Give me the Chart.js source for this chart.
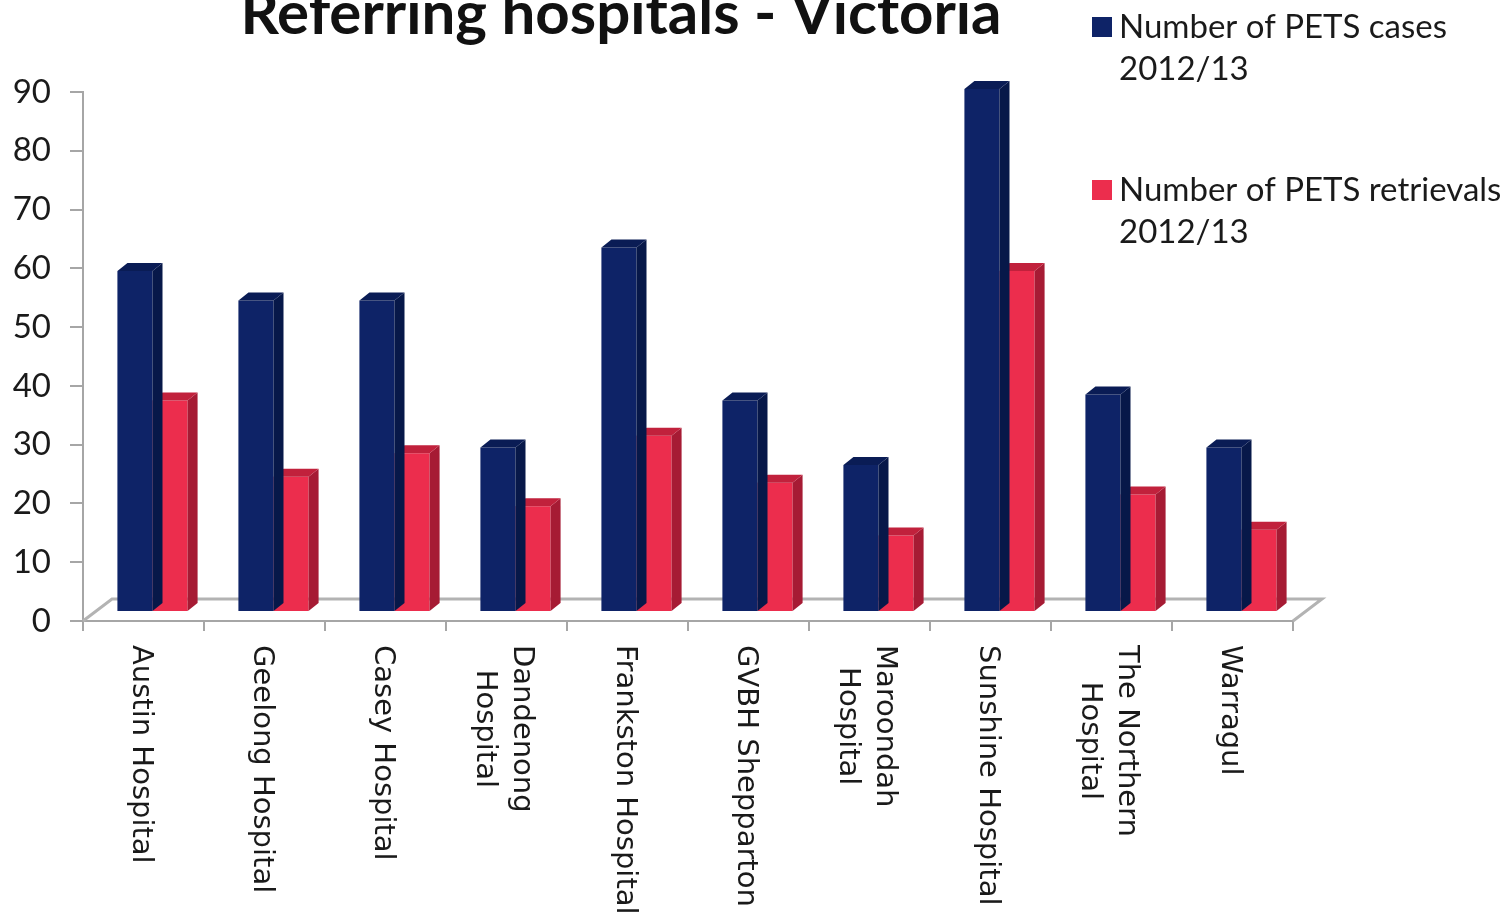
<!DOCTYPE html>
<html>
<head>
<meta charset="utf-8">
<script src="https://cdn.jsdelivr.net/npm/chart.js@4.4.1/dist/chart.umd.min.js"></script>
<style>
  html, body { margin:0; padding:0; background:#fff; }
  #wrap { width:1511px; height:916px; position:relative; }
</style>
</head>
<body>
<div id="wrap"><canvas id="hospChart"></canvas></div>
<script>
// ---- data ----
const hospitals = [
  ['Austin Hospital'], ['Geelong Hospital'], ['Casey Hospital'], ['Dandenong', 'Hospital'],
  ['Frankston Hospital'], ['GVBH Shepparton'], ['Maroondah', 'Hospital'], ['Sunshine Hospital'],
  ['The Northern', 'Hospital'], ['Warragul']
];
const petsCases = [58, 53, 53, 28, 62, 36, 25, 89, 37, 28];
const petsRetrievals = [36, 23, 27, 18, 30, 22, 13, 58, 20, 14];
const seriesNames = [['Number of PETS cases', '2012/13'], ['Number of PETS retrievals', '2012/13']];
const yMin = 0, yMax = 90, yStep = 10;
const chartTitle = 'Referring hospitals - Victoria';

const FRONT = ['#0e2367', '#ec2d4d'];
const SIDE  = ['#071849', '#a61b34'];
const TOP   = ['#0a1c55', '#c1213c'];

// fake 3D look: bars pushed back into the floor, with side + top faces
const shift = { x: 9, y: 9 };
const depth = { x: 10, y: 8 };
const floorDepth = { x: 29, y: 22 };

const threeD = {
  id: 'threeD',
  beforeDatasetsDraw(chart) {
    const { ctx, chartArea: a } = chart;
    ctx.save();
    ctx.strokeStyle = '#b3b3b3';
    ctx.lineWidth = 3;
    ctx.beginPath();
    ctx.moveTo(a.left, a.bottom);
    ctx.lineTo(a.left + floorDepth.x, a.bottom - floorDepth.y);
    ctx.lineTo(a.right + floorDepth.x, a.bottom - floorDepth.y);
    ctx.lineTo(a.right, a.bottom);
    ctx.stroke();
    ctx.restore();
    ctx.save();
    ctx.translate(shift.x, -shift.y);
  },
  afterDatasetDraw(chart, args) {
    const ctx = chart.ctx;
    const i = args.index;
    args.meta.data.forEach(bar => {
      const p = bar.getProps(['x', 'y', 'base', 'width'], true);
      const l = p.x - p.width / 2, r = p.x + p.width / 2;
      ctx.fillStyle = SIDE[i];
      ctx.beginPath();
      ctx.moveTo(r, p.y);
      ctx.lineTo(r + depth.x, p.y - depth.y);
      ctx.lineTo(r + depth.x, p.base - depth.y);
      ctx.lineTo(r, p.base);
      ctx.closePath();
      ctx.fill();
      ctx.fillStyle = TOP[i];
      ctx.beginPath();
      ctx.moveTo(l, p.y);
      ctx.lineTo(l + depth.x, p.y - depth.y);
      ctx.lineTo(r + depth.x, p.y - depth.y);
      ctx.lineTo(r, p.y);
      ctx.closePath();
      ctx.fill();
    });
  },
  afterDatasetsDraw(chart) {
    chart.ctx.restore();
  }
};

// title, legend and the top-to-bottom category labels
const decorations = {
  id: 'decorations',
  afterDraw(chart) {
    const { ctx, chartArea: a } = chart;
    const xs = chart.scales.x;
    ctx.save();
    ctx.fillStyle = '#111';
    ctx.font = 'bold 60px Lato';
    ctx.textAlign = 'center';
    ctx.textBaseline = 'alphabetic';
    ctx.fillText(chartTitle, 621, 34);

    // legend
    ctx.font = '33px Lato';
    ctx.textAlign = 'left';
    ctx.textBaseline = 'middle';
    const legendY = [27, 190];
    seriesNames.forEach((lines, i) => {
      ctx.fillStyle = FRONT[i];
      ctx.fillRect(1092, legendY[i] - 10, 20, 20);
      ctx.fillStyle = '#1a1a1a';
      lines.forEach((t, k) => ctx.fillText(t, 1119, legendY[i] + k * 42));
    });

    // x labels, rotated clockwise
    ctx.font = '29px "DejaVu Sans"';
    ctx.fillStyle = '#1a1a1a';
    ctx.textAlign = 'center';
    hospitals.forEach((lines, i) => {
      const cx = xs.getPixelForValue(i) - 3;
      const w = Math.max(...lines.map(t => ctx.measureText(t).width));
      ctx.save();
      ctx.translate(cx, a.bottom + 24 + w / 2);
      ctx.rotate(Math.PI / 2);
      const n = lines.length;
      lines.forEach((t, k) => {
        ctx.fillText(t, 0, (k - (n - 1) / 2) * 37);
      });
      ctx.restore();
    });
    ctx.restore();
  }
};

new Chart(document.getElementById('hospChart'), {
  type: 'bar',
  data: {
    labels: hospitals,
    datasets: [
      { label: seriesNames[0].join(' '), data: petsCases, backgroundColor: FRONT[0], borderWidth: 0, clip: false },
      { label: seriesNames[1].join(' '), data: petsRetrievals, backgroundColor: FRONT[1], borderWidth: 0, clip: false }
    ]
  },
  options: {
    responsive: true,
    maintainAspectRatio: false,
    animation: false,
    categoryPercentage: 0.58,
    barPercentage: 1.0,
    layout: { padding: { top: 92, right: 218, left: 0, bottom: 0 } },
    plugins: { legend: { display: false }, tooltip: { enabled: false }, title: { display: false } },
    scales: {
      x: {
        ticks: { display: false },
        grid: { drawOnChartArea: false, drawTicks: true, tickLength: 10, color: '#a6a6a6', lineWidth: 2 },
        border: { color: '#a6a6a6', width: 2 },
        afterFit(s) { s.height = 295; }
      },
      y: {
        min: yMin, max: yMax,
        ticks: { stepSize: yStep, padding: 19, color: '#1a1a1a', font: { family: 'Lato', size: 33 } },
        grid: { drawOnChartArea: false, drawTicks: true, tickLength: 13, color: '#a6a6a6', lineWidth: 2 },
        border: { color: '#a6a6a6', width: 2 },
        afterFit(s) { s.width = 83; }
      }
    }
  },
  plugins: [threeD, decorations]
});
</script>
</body>
</html>
